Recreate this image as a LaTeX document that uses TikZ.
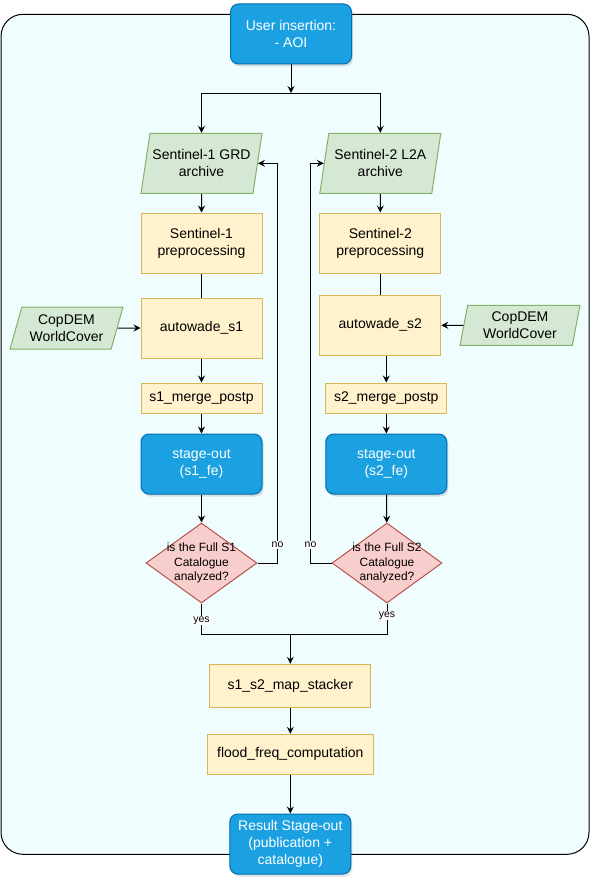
\documentclass[tikz,border=0pt]{standalone}
\usepackage{fontspec}
\setmainfont{Liberation Sans}
\usetikzlibrary{shapes.geometric,arrows.meta,shadows}
\definecolor{bgfill}{HTML}{F0FDFF}
\definecolor{bluefill}{HTML}{1BA1E2}
\definecolor{blueline}{HTML}{006EAF}
\definecolor{yelfill}{HTML}{FFF2CC}
\definecolor{yelline}{HTML}{D6B656}
\definecolor{grnfill}{HTML}{D5E8D4}
\definecolor{grnline}{HTML}{82B366}
\definecolor{redfill}{HTML}{F8CECC}
\definecolor{redline}{HTML}{B85450}
\begin{document}
\begin{tikzpicture}[x=1pt,y=-1pt,line width=1pt,
	every node/.style={font=\fontsize{14}{16.8}\selectfont,align=center,inner sep=0pt},
	proc/.style={draw=yelline,fill=yelfill,minimum width=121pt,minimum height=60pt},
	io/.style={trapezium,trapezium left angle=71.57,trapezium right angle=108.43,trapezium stretches body,draw=grnline,fill=grnfill,minimum width=121pt,minimum height=60pt},
	term/.style={draw=blueline,fill=bluefill,text=white,rounded corners=8pt,minimum width=121pt,minimum height=60pt,drop shadow={opacity=0.25,shadow xshift=1.5pt,shadow yshift=-2.5pt}},
	test/.style={diamond,draw=redline,fill=redfill,minimum width=111pt,minimum height=80pt},
	dtext/.style={font=\fontsize{12}{14.6}\selectfont,align=center},
	lbl/.style={fill=white,font=\fontsize{10.5}{12}\selectfont,inner sep=1pt},
	flow/.style={-{Stealth[length=7pt,width=7pt,inset=2.5pt]}}]
				\useasboundingbox (0,0) rectangle (592,883);
				\draw[fill=bgfill,rounded corners=22pt] (1,14.3) rectangle (589,854.3);
				\node[term] (user) at (291,34) {User insertion:\\- AOI};
				\node[io] (a1) at (201.5,163.3) {Sentinel-1 GRD\\archive};
				\node[io] (a2) at (380.3,163.3) {Sentinel-2 L2A\\archive};
				\node[proc] (p1) at (201.5,243) {Sentinel-1\\preprocessing};
				\node[proc] (p2) at (380.3,243) {Sentinel-2\\preprocessing};
				\node[proc] (w1) at (201.5,328) {autowade\_s1};
				\node[proc] (w2) at (380.3,325.3) {autowade\_s2};
				\node[io,minimum width=113pt,minimum height=42pt,trapezium left angle=66,trapezium right angle=114] (c1) at (66.5,328) {CopDEM\\WorldCover};
				\node[io,minimum width=120pt,minimum height=40pt,trapezium left angle=74,trapezium right angle=106] (c2) at (520,325.3) {CopDEM\\WorldCover};
				\node[proc,minimum height=30pt] (m1) at (201.5,398) {s1\_merge\_postp};
				\node[proc,minimum height=30pt] (m2) at (386.3,398) {s2\_merge\_postp};
				\node[term] (s1) at (201.5,464) {stage-out\\(s1\_fe)};
				\node[term] (s2) at (386.3,464) {stage-out\\(s2\_fe)};
				\node[test,label={[dtext]center:is the Full S1\\Catalogue\\analyzed?}] (d1) at (201.5,563) {};
				\node[test,minimum width=110pt,label={[dtext]center:is the Full S2\\Catalogue\\analyzed?}] (d2) at (387,563) {};
				\node[proc,minimum width=160.7pt,minimum height=43pt] (stack) at (290.3,685.8) {s1\_s2\_map\_stacker};
				\node[proc,minimum width=166pt,minimum height=40pt] (flood) at (290.3,754.3) {flood\_freq\_computation};
				\node[term] (res) at (290.3,844) {Result Stage-out\\(publication +\\catalogue)};
				\coordinate (split) at (291,93);
				\coordinate (join) at (290.3,634);
				\coordinate (n1) at ([xshift=20pt]d1.east);
				\coordinate (n2) at ([xshift=-21pt]d2.west);
				\draw[flow] (user) -- (split);
				\draw[flow] (split) -| (a1);
				\draw[flow] (split) -| (a2);
				\draw[flow] (a1) -- (p1);
				\draw[flow] (a2) -- (p2);
				\draw (p1) -- (w1);
				\draw (p2) -- (w2);
				\draw[flow] (c1) -- (w1);
				\draw[flow] (c2) -- (w2);
				\draw[flow] (w1) -- (m1);
				\draw[flow] (w2.south -| m2) -- (m2);
				\draw[flow] (m1) -- (s1);
				\draw[flow] (m2) -- (s2);
				\draw[flow] (s1) -- (d1);
				\draw[flow] (s2) -- (d2);
				\draw[flow] (d1.east) -- (n1) |- (a1.east);
				\draw[flow] (d2.west) -- (n2) |- (a2.west);
				\draw (d1.south) |- (join);
				\draw (d2.south) |- (join);
				\draw[flow] (join) -- (stack);
				\draw[flow] (stack) -- (flood);
				\draw[flow] (flood) -- (res);
				\node[lbl] (no1) at ([yshift=18pt]n1) {no};
				\node[lbl] (no2) at ([yshift=18pt]n2) {no};
				\node[lbl] (yes1) at ([yshift=-17pt]d1.south) {yes};
				\node[lbl] (yes2) at ([yshift=-12pt]d2.south) {yes};
			\end{tikzpicture}
\end{document}
